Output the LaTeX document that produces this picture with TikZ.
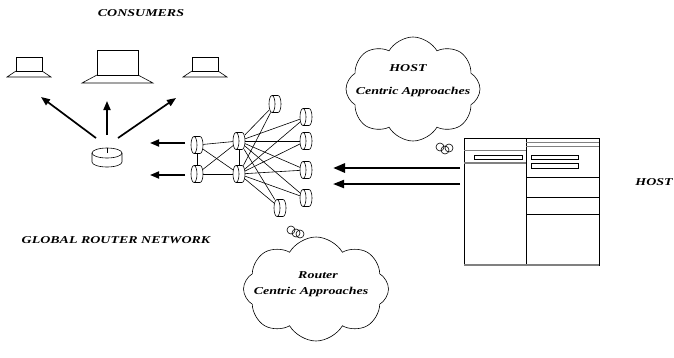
\documentclass[tikz,border=0pt]{standalone}
\usepackage{fontspec}
\newfontfamily\lblfont[FakeStretch=1.33]{Liberation Serif}
\usetikzlibrary{arrows.meta,positioning,calc,shapes.symbols}

\begin{document}
\begin{tikzpicture}[x=1pt,y=-1pt]

\tikzset{every node/.style = {inner sep=0pt, outer sep=0pt}}
\tikzset{lbl/.style = {font=\lblfont\bfseries\itshape\fontsize{10.5}{12}\selectfont}}
\tikzset{wire/.style = {line width=0.6pt}}
\tikzset{fat/.style = {line width=1.7pt, -{Triangle[length=9pt,width=7pt]}}}
\tikzstyle{router} = [rectangle, minimum width=12pt, minimum height=17pt]
\tikzstyle{smallscreen} = [rectangle, draw, line width=0.6pt, minimum width=26pt, minimum height=14pt]
\tikzstyle{bigscreen} = [rectangle, draw, line width=0.6pt, minimum width=41pt, minimum height=25pt]
\tikzstyle{thought} = [cloud, draw, line width=0.6pt, cloud puffs=8, cloud puff arc=120]

\useasboundingbox (0,0) rectangle (674,357);

% consumers
\node[lbl]         (consumers) at (141,13)   {CONSUMERS};
\node[smallscreen] (lap_l)     at (29,64)    {};
\node[bigscreen]   (lap_c)     at (117.5,62.5) {};
\node[smallscreen] (lap_r)     at (205,64)   {};
\foreach \s/\d/\h in {lap_l/9/6, lap_c/15/8, lap_r/9/6}
  \draw[wire] (\s.south west) -- ($(\s.south west)+(-\d,\h)$) -- ($(\s.south east)+(\d,\h)$) -- (\s.south east);

% hub router under the consumers
\node[minimum width=30pt, minimum height=19pt] (hub) at (107,157.5) {};
\draw[wire] ($(hub.north)+(0,5)$) ellipse [x radius=15, y radius=5];
\draw[wire] ($(hub.north west)+(0,5)$) -- ($(hub.south west)+(0,-5)$)
  arc[start angle=180, end angle=0, x radius=15, y radius=5] -- ($(hub.north east)+(0,5)$);
\draw[wire] ($(hub.north)+(0,5)$) -- (hub.north);

\coordinate (cons_l) at (41,97);
\coordinate (cons_c) at (107,101);
\coordinate (cons_r) at (176,98);
\draw[fat] ($(hub.north)+(-11,-10)$) -- (cons_l);
\draw[fat] ($(hub.north)+(0,-13)$)   -- (cons_c);
\draw[fat] ($(hub.north)+(11,-10)$)  -- (cons_r);

% global router network
\node[router] (r_a1) at (197,145) {};
\node[router] (r_a2) at (197,174) {};
\node[router] (r_b1) at (239,141) {};
\node[router] (r_b2) at (239,174) {};
\node[router] (r_c1) at (275,104) {};
\node[router] (r_d1) at (306,117) {};
\node[router] (r_d2) at (306,141) {};
\node[router] (r_d3) at (306,170) {};
\node[router] (r_d4) at (306,198) {};
\node[router] (r_c2) at (280,208) {};

% drum outline for each router: front face left, body to the right
\foreach \r in {a1,a2,b1,b2,c1,d1,d2,d3,d4,c2} {
  \draw[wire] ($(r_\r.west)+(3,0)$) ellipse [x radius=3, y radius=8.5];
  \draw[wire] ($(r_\r.north west)+(3,0)$) -- ($(r_\r.north east)+(-3,0)$)
    arc[start angle=-90, end angle=90, x radius=3, y radius=8.5] -- ($(r_\r.south west)+(3,0)$);
}

\draw[wire] (r_a1) -- (r_a2);
\draw[wire] (r_a1) -- (r_b1);
\draw[wire] (r_a2) -- (r_b2);
\draw[wire] (r_a1) -- (r_b2);
\draw[wire] (r_a2) -- (r_b1);
\draw[wire] (r_b1) -- (r_b2);
\foreach \t in {c1,d1,d2,d3,d4,c2} {
  \draw[wire] (r_b1) -- (r_\t);
  \draw[wire] (r_b2) -- (r_\t);
}

\node[lbl] (grn_label) at (116,240) {GLOBAL ROUTER NETWORK};

\coordinate (out_a) at (150,143);
\coordinate (out_b) at (150,175);
\draw[fat, shorten <=6pt] (r_a1.west |- out_a) -- (out_a);
\draw[fat, shorten <=6pt] (r_a2.west |- out_b) -- (out_b);

% host server
\node[rectangle, draw, line width=0.8pt, minimum width=135pt, minimum height=127pt] (host) at (531.5,201.5) {};
\draw[wire] ($(host.north west)+(62,0)$) -- ($(host.south west)+(62,0)$);
\draw[line width=1pt, gray] ($(host.north west)+(0,12)$) -- ++(62,0);
\draw[line width=1.2pt, gray] ($(host.north west)+(0,25)$) -- ++(62,0);
\draw[line width=1pt, gray] ($(host.north west)+(62,4)$) -- (host.north east |- {$(host.north west)+(0,4)$});
\draw[line width=1.2pt, gray] ($(host.north west)+(62,8.5)$) -- (host.north east |- {$(host.north west)+(0,8.5)$});
\draw[wire] ($(host.north west)+(10,17)$) rectangle ($(host.north west)+(58,21)$);
\draw[wire] ($(host.north west)+(67,17)$) rectangle ($(host.north west)+(114,21)$);
\draw[wire] ($(host.north west)+(67,25)$) rectangle ($(host.north west)+(114,30)$);
\foreach \y in {39,59,76}
  \draw[wire] ($(host.north west)+(62,\y)$) -- ($(host.north west)+(135,\y)$);
\draw[line width=1.2pt, gray] (host.south west) -- (host.south east);

\node[lbl] (host_label) at (654,182) {HOST};

\coordinate (in_a) at (333,168);
\coordinate (in_b) at (333,184);
\draw[line width=2.8pt, -{Triangle[length=12pt,width=9pt]}] ($(host.west |- in_a)+(-4,0)$) -- (in_a);
\draw[line width=2pt, -{Triangle[length=11pt,width=8pt]}] ($(host.west |- in_b)+(-4,0)$) -- (in_b);

% clouds
\node[thought, minimum width=134pt, minimum height=104pt] (host_cloud) at (413,89) {};
\node[lbl] (host_cl1) at (408,68) {HOST};
\node[lbl] (host_cl2) at (413,92) {Centric Approaches};
\draw[wire] (440,147) circle[radius=4];
\draw[wire] (445,150) circle[radius=4];
\draw[wire] (449,148) circle[radius=4];

\node[thought, minimum width=145pt, minimum height=104pt] (rt_cloud) at (316,289) {};
\node[lbl] (rt_cl1) at (318,275) {Router};
\node[lbl] (rt_cl2) at (311,292) {Centric Approaches};
\draw[wire] (291,230) circle[radius=4];
\draw[wire] (296,233) circle[radius=4];
\draw[wire] (300,234) circle[radius=4];

\end{tikzpicture}
\end{document}
